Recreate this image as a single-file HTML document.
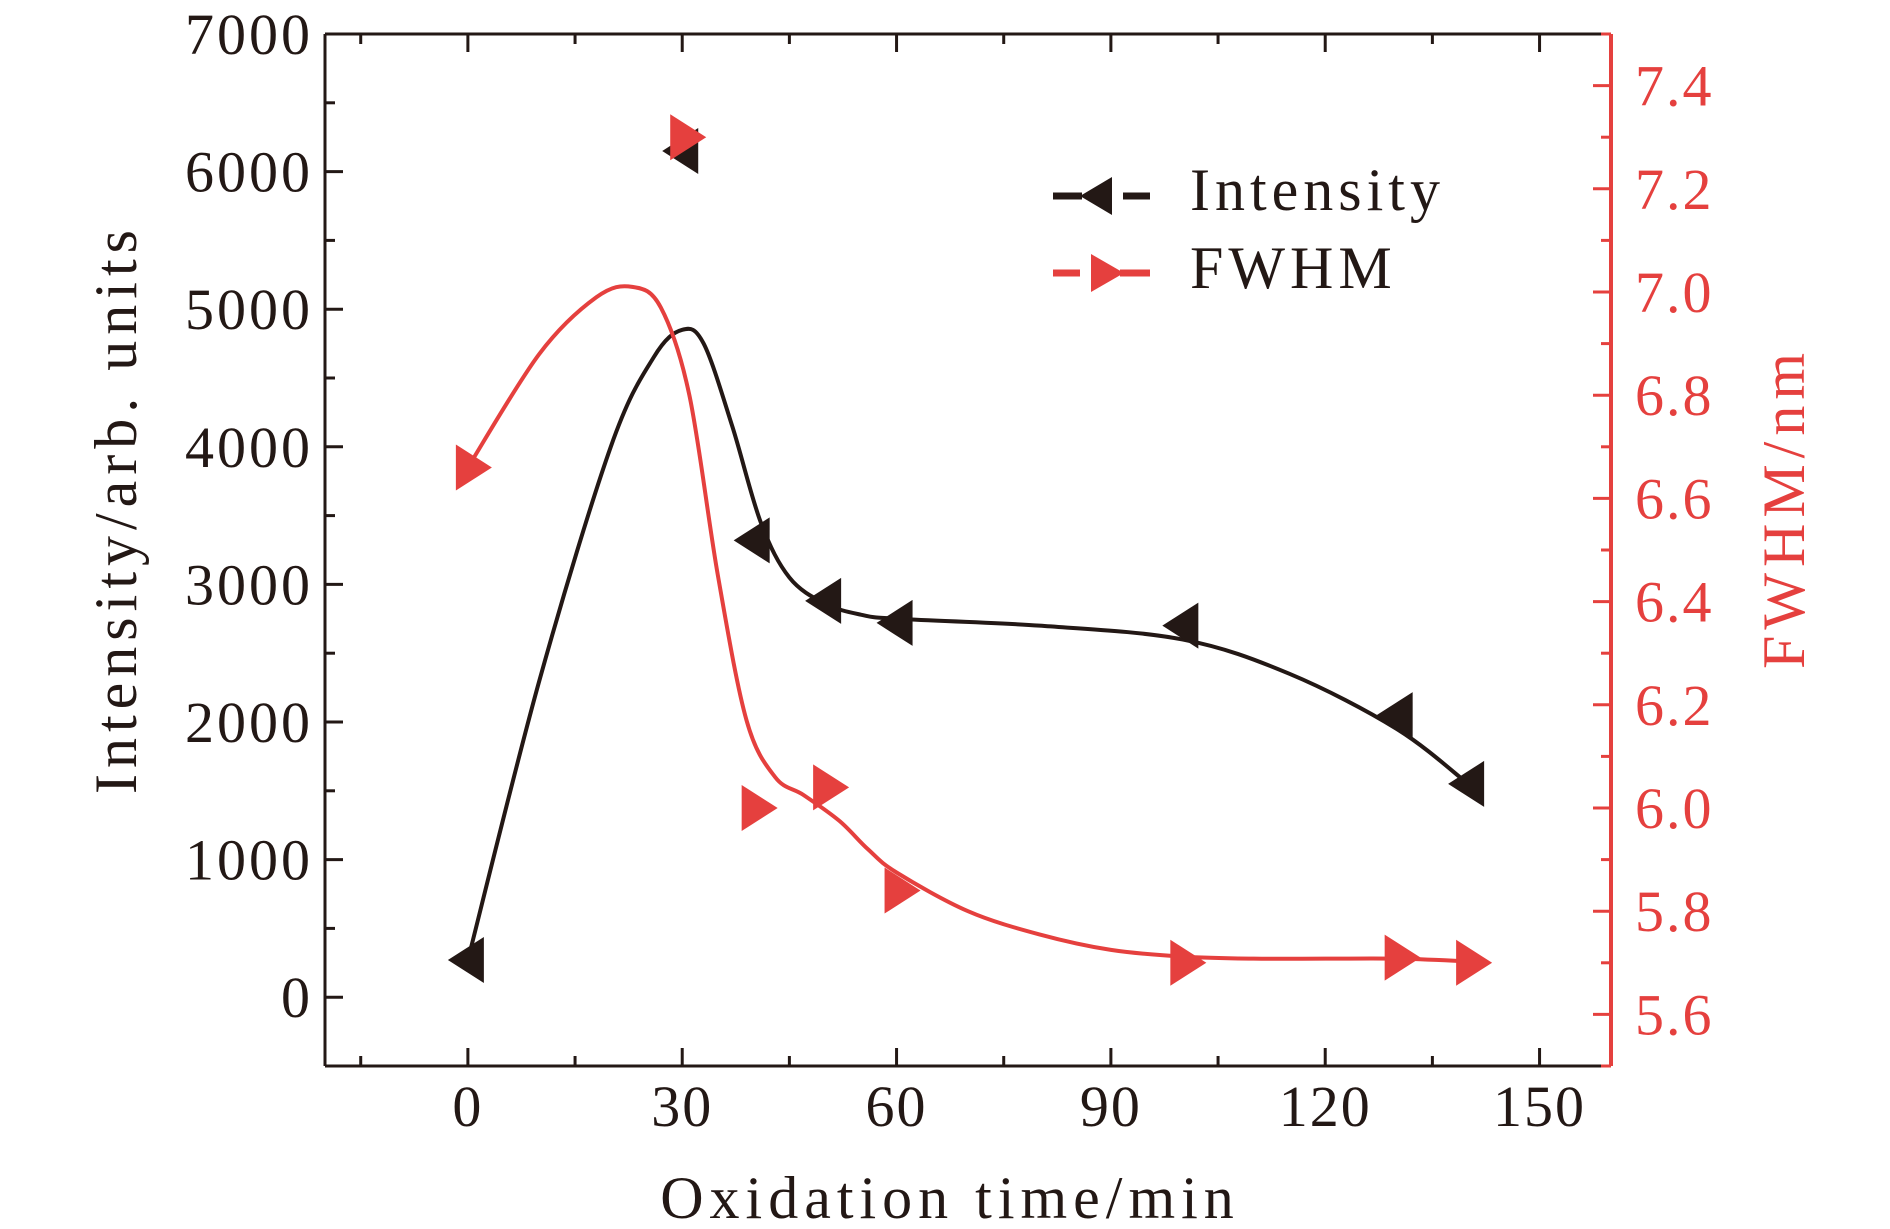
<!DOCTYPE html>
<html><head><meta charset="utf-8"><style>
html,body{margin:0;padding:0;background:#fff}
svg{display:block}
text{font-family:"Liberation Serif",serif}
</style></head><body>
<svg id="chart" width="1890" height="1229" viewBox="0 0 1890 1229" xmlns="http://www.w3.org/2000/svg"></svg>
<script>
const xTicks=[0,30,60,90,120,150];
const yTicks=[0,1000,2000,3000,4000,5000,6000,7000];
const y2Ticks=[5.6,5.8,6.0,6.2,6.4,6.6,6.8,7.0,7.2,7.4];
const times=[0,30,40,50,60,100,130,140];
const intensity=[270,6150,3320,2880,2720,2700,2050,1550];
const fwhm=[6.66,7.30,6.00,6.04,5.84,5.70,5.71,5.70];
const intFitX=[0,10,20,26,30,33,37,41,45,50,55,60,80,100,115,130,140];
const intFitY=[270,2300,4000,4650,4850,4750,4150,3450,3050,2860,2780,2750,2700,2600,2350,1950,1550];
const fwFitX=[0,10,18,23,27,31,35,39,43,47,52,56,60,70,80,90,100,110,120,130,140];
const fwFitY=[6.66,6.88,6.99,7.01,6.97,6.80,6.45,6.17,6.06,6.025,5.975,5.92,5.875,5.80,5.755,5.725,5.712,5.708,5.708,5.708,5.703];

const L=325,R=1611,T=34,B=1066;
const BLK='#231815',RED='#e5403e';
const sx=v=>L+(v+20)/180*(R-L);
const sy=v=>B-(v+500)/7500*(B-T);
const sy2=v=>B-(v-5.5)/2.0*(B-T);
const svg=document.getElementById('chart');
const NS='http://www.w3.org/2000/svg';
function mk(tag,attrs,parent){const e=document.createElementNS(NS,tag);for(const k in attrs)e.setAttribute(k,attrs[k]);(parent||svg).appendChild(e);return e;}
function smooth(xs,ys,fy){const p=xs.map((x,i)=>[sx(x),fy(ys[i])]);let d='M'+p[0][0]+','+p[0][1];
for(let i=0;i<p.length-1;i++){const p0=p[Math.max(0,i-1)],p1=p[i],p2=p[i+1],p3=p[Math.min(p.length-1,i+2)];
d+=' C'+(p1[0]+(p2[0]-p0[0])/6)+','+(p1[1]+(p2[1]-p0[1])/6)+' '+(p2[0]-(p3[0]-p1[0])/6)+','+(p2[1]-(p3[1]-p1[1])/6)+' '+p2[0]+','+p2[1];}return d;}

let e;
e=mk('line',{x1:L,y1:B,x2:R,y2:B,stroke:BLK,'stroke-width':3});

e=mk('line',{x1:L,y1:T,x2:R,y2:T,stroke:BLK,'stroke-width':3});

e=mk('line',{x1:L,y1:T,x2:L,y2:B,stroke:BLK,'stroke-width':3});

e=mk('line',{x1:R,y1:T,x2:R,y2:B,stroke:RED,'stroke-width':4});


for(let v=-15;v<=150;v+=15){const major=v%30===0;const len=major?18:10;
mk('line',{x1:sx(v),y1:B,x2:sx(v),y2:B-len,stroke:BLK,'stroke-width':3});
mk('line',{x1:sx(v),y1:T,x2:sx(v),y2:T+len,stroke:BLK,'stroke-width':3});}
xTicks.forEach(v=>{const t=mk('text',{x:sx(v),y:B+60,'text-anchor':'middle','font-size':58,fill:BLK,'letter-spacing':2});t.textContent=v;
});
for(let v=-500;v<=7000;v+=500){const major=v%1000===0;mk('line',{x1:L,y1:sy(v),x2:L+(major?18:10),y2:sy(v),stroke:BLK,'stroke-width':3});}
yTicks.forEach(v=>{const t=mk('text',{x:L-12,y:sy(v)+20,'text-anchor':'end','font-size':58,fill:BLK,'letter-spacing':3});t.textContent=v;
});
for(let i=0;i<=20;i++){const v=5.5+i*0.1;const major=i%2===1;mk('line',{x1:R,y1:sy2(v),x2:R-(major?18:10),y2:sy2(v),stroke:RED,'stroke-width':3});}
y2Ticks.forEach(v=>{const t=mk('text',{x:R+24,y:sy2(v)+20,'text-anchor':'start','font-size':58,fill:RED,'letter-spacing':2});t.textContent=v.toFixed(1);
});

e=mk('text',{x:950,y:1218,'text-anchor':'middle','font-size':60,fill:BLK,'letter-spacing':6});e.textContent='Oxidation time/min';

e=mk('text',{x:0,y:0,'text-anchor':'middle','font-size':60,fill:BLK,'letter-spacing':6,transform:'translate(136,509) rotate(-90)'});e.textContent='Intensity/arb. units';

e=mk('text',{x:0,y:0,'text-anchor':'middle','font-size':60,fill:RED,'letter-spacing':6,transform:'translate(1804,508) rotate(-90)'});e.textContent='FWHM/nm';


e=mk('path',{d:smooth(intFitX,intFitY,sy),fill:'none',stroke:BLK,'stroke-width':4});

e=mk('path',{d:smooth(fwFitX,fwFitY,sy2),fill:'none',stroke:RED,'stroke-width':4});


function leftTri(cx,cy,c){return mk('polygon',{points:(cx-20)+','+cy+' '+(cx+16)+','+(cy-23)+' '+(cx+16)+','+(cy+23),fill:c});}
function rightTri(cx,cy,c){return mk('polygon',{points:(cx+20)+','+cy+' '+(cx-16)+','+(cy-23)+' '+(cx-16)+','+(cy+23),fill:c});}
times.forEach((t,i)=>{const m=leftTri(sx(t),sy(intensity[i]),BLK);
});
times.forEach((t,i)=>{const m=rightTri(sx(t)+4,sy2(fwhm[i]),RED);
});

const lg=mk('g',{});
mk('line',{x1:1053,y1:196,x2:1082,y2:196,stroke:BLK,'stroke-width':7},lg);
mk('line',{x1:1123,y1:196,x2:1150,y2:196,stroke:BLK,'stroke-width':7},lg);
mk('polygon',{points:'1080,196 1112,177 1112,215',fill:BLK},lg);
mk('line',{x1:1053,y1:273,x2:1080,y2:273,stroke:RED,'stroke-width':7},lg);
mk('line',{x1:1120,y1:273,x2:1150,y2:273,stroke:RED,'stroke-width':7},lg);
mk('polygon',{points:'1124,273 1091,254 1091,292',fill:RED},lg);
e=mk('text',{x:1190,y:210,'font-size':60,fill:BLK,'letter-spacing':5},lg);e.textContent='Intensity';

e=mk('text',{x:1190,y:288,'font-size':60,fill:BLK,'letter-spacing':5},lg);e.textContent='FWHM';

</script>
</body></html>
